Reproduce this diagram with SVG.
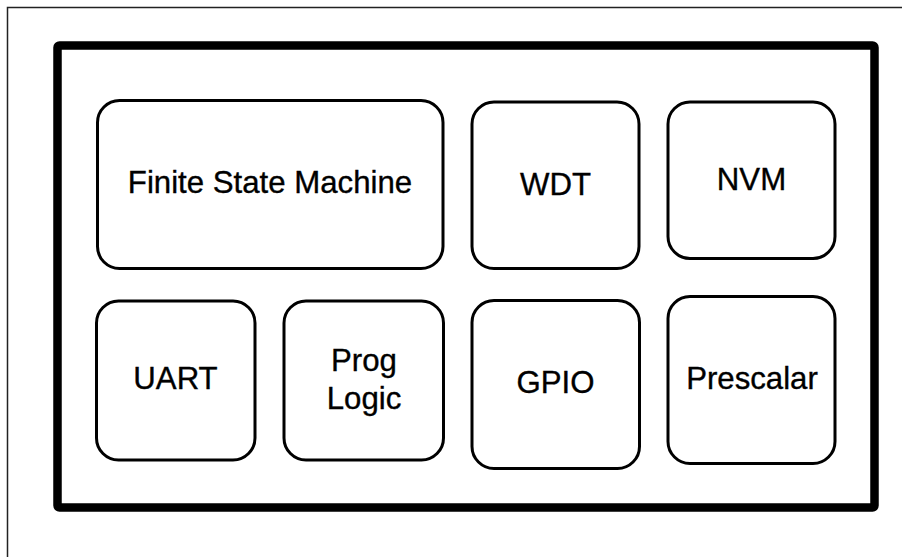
<svg xmlns="http://www.w3.org/2000/svg" width="902" height="557" viewBox="0 0 902 557">
<style>
.box{fill:#fff;stroke:#000;stroke-width:3}
.lbl{font-family:"Liberation Sans",Arial,Helvetica,sans-serif;font-size:31.2px;fill:#000;stroke:#000;stroke-width:0.35;text-anchor:middle}
</style>
<rect x="0" y="0" width="902" height="557" fill="#fff"/>
<rect id="frame" x="7.5" y="7.5" width="920" height="580" fill="none" stroke="#222" stroke-width="1.5"/>
<rect id="chip" x="57.5" y="45.5" width="817" height="462" rx="2" fill="#fff" stroke="#000" stroke-width="8.5"/>
<g id="fsm"><rect class="box" x="97.5" y="100.5" width="345.5" height="168" rx="22"/><text class="lbl" x="270" y="193.3">Finite State Machine</text></g>
<g id="wdt"><rect class="box" x="472" y="102" width="167" height="166.5" rx="22"/><text class="lbl" x="555.5" y="195">WDT</text></g>
<g id="nvm"><rect class="box" x="668" y="102" width="167" height="156.5" rx="22"/><text class="lbl" x="751.5" y="190">NVM</text></g>
<g id="uart"><rect class="box" x="96.5" y="301" width="158.5" height="159" rx="22"/><text class="lbl" x="175.5" y="389.3">UART</text></g>
<g id="prog"><rect class="box" x="284" y="301" width="159.5" height="159" rx="22"/><text class="lbl" x="364" y="370.7">Prog</text><text class="lbl" x="364" y="409">Logic</text></g>
<g id="gpio"><rect class="box" x="472" y="300.5" width="167.5" height="168" rx="22"/><text class="lbl" x="555.5" y="393.3">GPIO</text></g>
<g id="prescalar"><rect class="box" x="668" y="296.5" width="167" height="167" rx="22"/><text class="lbl" x="752" y="389.3">Prescalar</text></g>
<g id="connectors"></g>
</svg>
